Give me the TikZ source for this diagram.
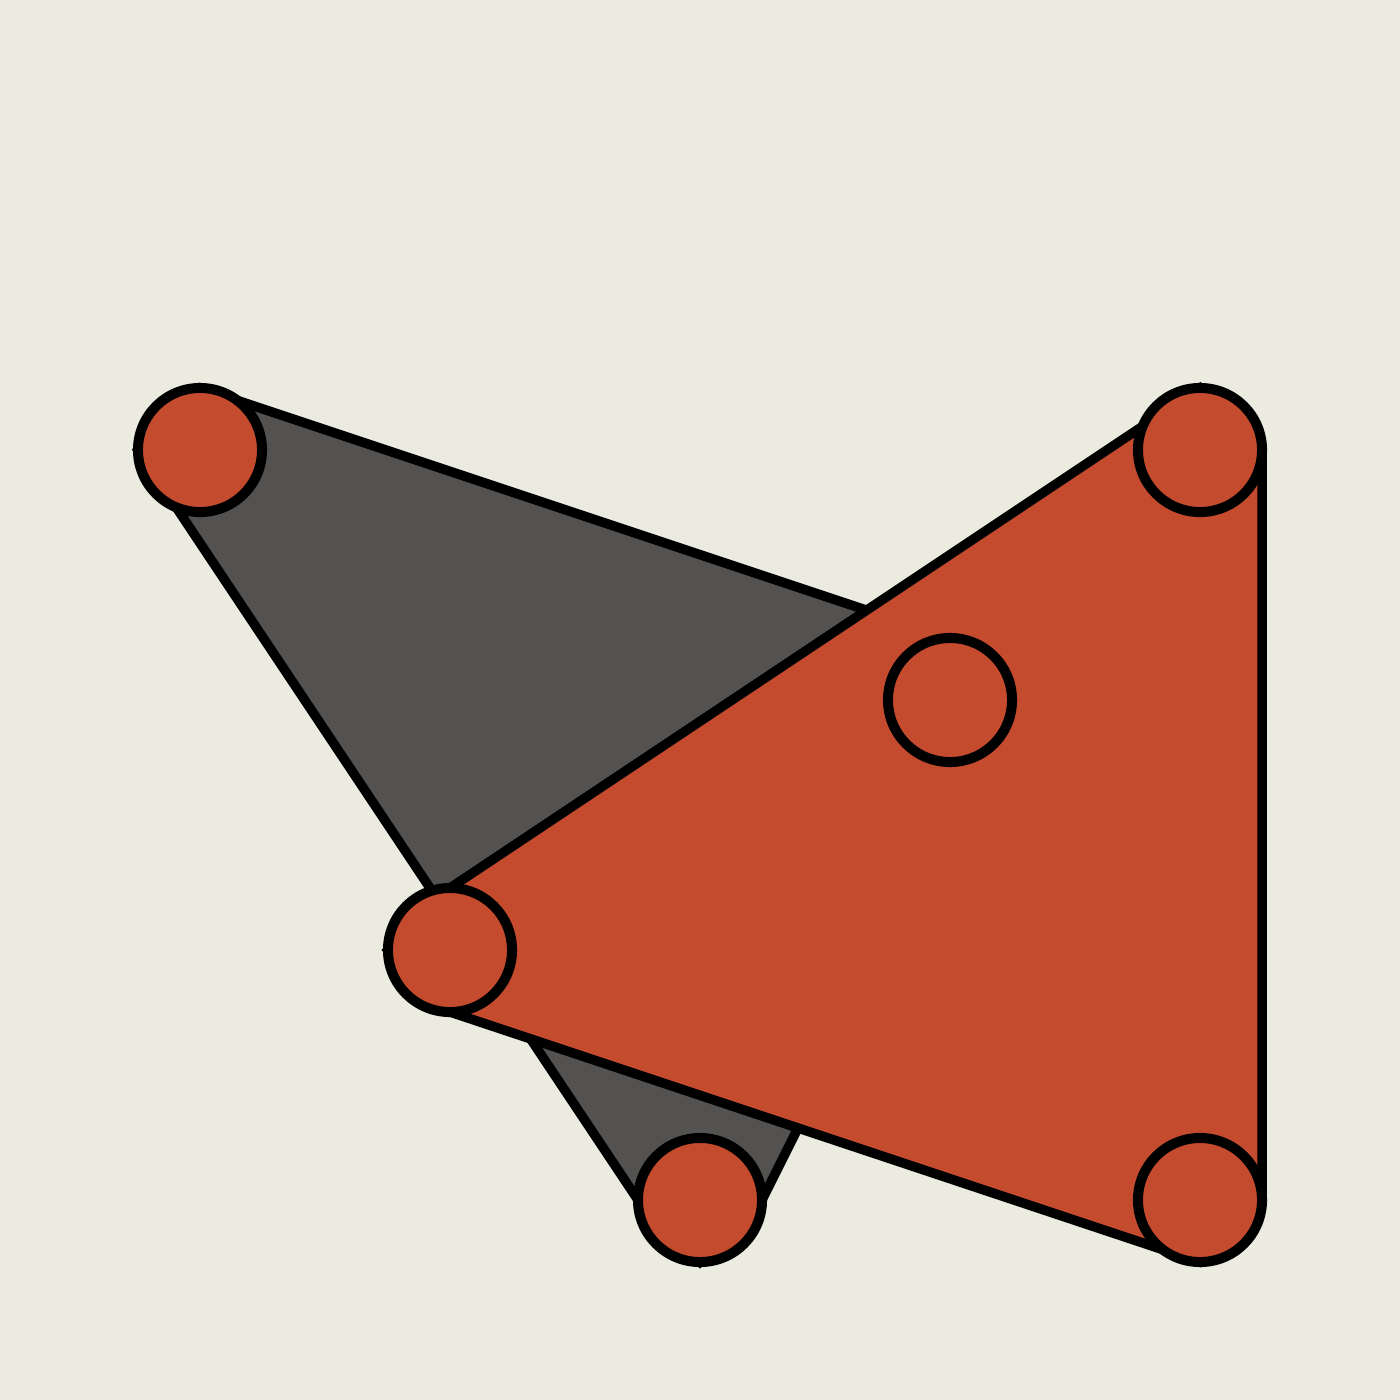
\documentclass[tikz,border=0pt]{standalone}
\begin{document}
\begin{tikzpicture}[x=0.01cm,y=-0.01cm,
  edge/.style={line width=0.095cm,line join=miter,draw=black},
  dot/.style={circle,draw=black,line width=0.1cm,fill=redc,minimum size=1.24cm,inner sep=0pt}]
\definecolor{bgc}{HTML}{EBEBDF}
\definecolor{grayc}{HTML}{535250}
\definecolor{redc}{HTML}{C44B2D}
\fill[bgc] (0,0) rectangle (1400,1400);
\useasboundingbox (0,0) rectangle (1400,1400);
\coordinate (g1) at (200,388);
\coordinate (g2) at (950,638);
\coordinate (g3) at (1012,700);
\coordinate (g4) at (762,1200);
\coordinate (g5) at (700,1262);
\coordinate (g6) at (638,1200);
\coordinate (g7) at (138,450);
\draw[edge,fill=grayc] (g1) -- (g2) -- (g3) -- (g4) -- (g5) -- (g6) -- (g7) -- cycle;
\coordinate (r1) at (1200,388);
\coordinate (r2) at (1262,450);
\coordinate (r3) at (1262,1200);
\coordinate (r4) at (1200,1262);
\coordinate (r5) at (450,1012);
\coordinate (r6) at (388,950);
\coordinate (r7) at (450,888);
\draw[edge,fill=redc] (r1) -- (r2) -- (r3) -- (r4) -- (r5) -- (r6) -- (r7) -- cycle;
\node[dot] (a) at (200,450) {};
\node[dot] (b) at (1200,450) {};
\node[dot] (c) at (950,700) {};
\node[dot] (d) at (450,950) {};
\node[dot] (e) at (700,1200) {};
\node[dot] (f) at (1200,1200) {};
\end{tikzpicture}
\end{document}
